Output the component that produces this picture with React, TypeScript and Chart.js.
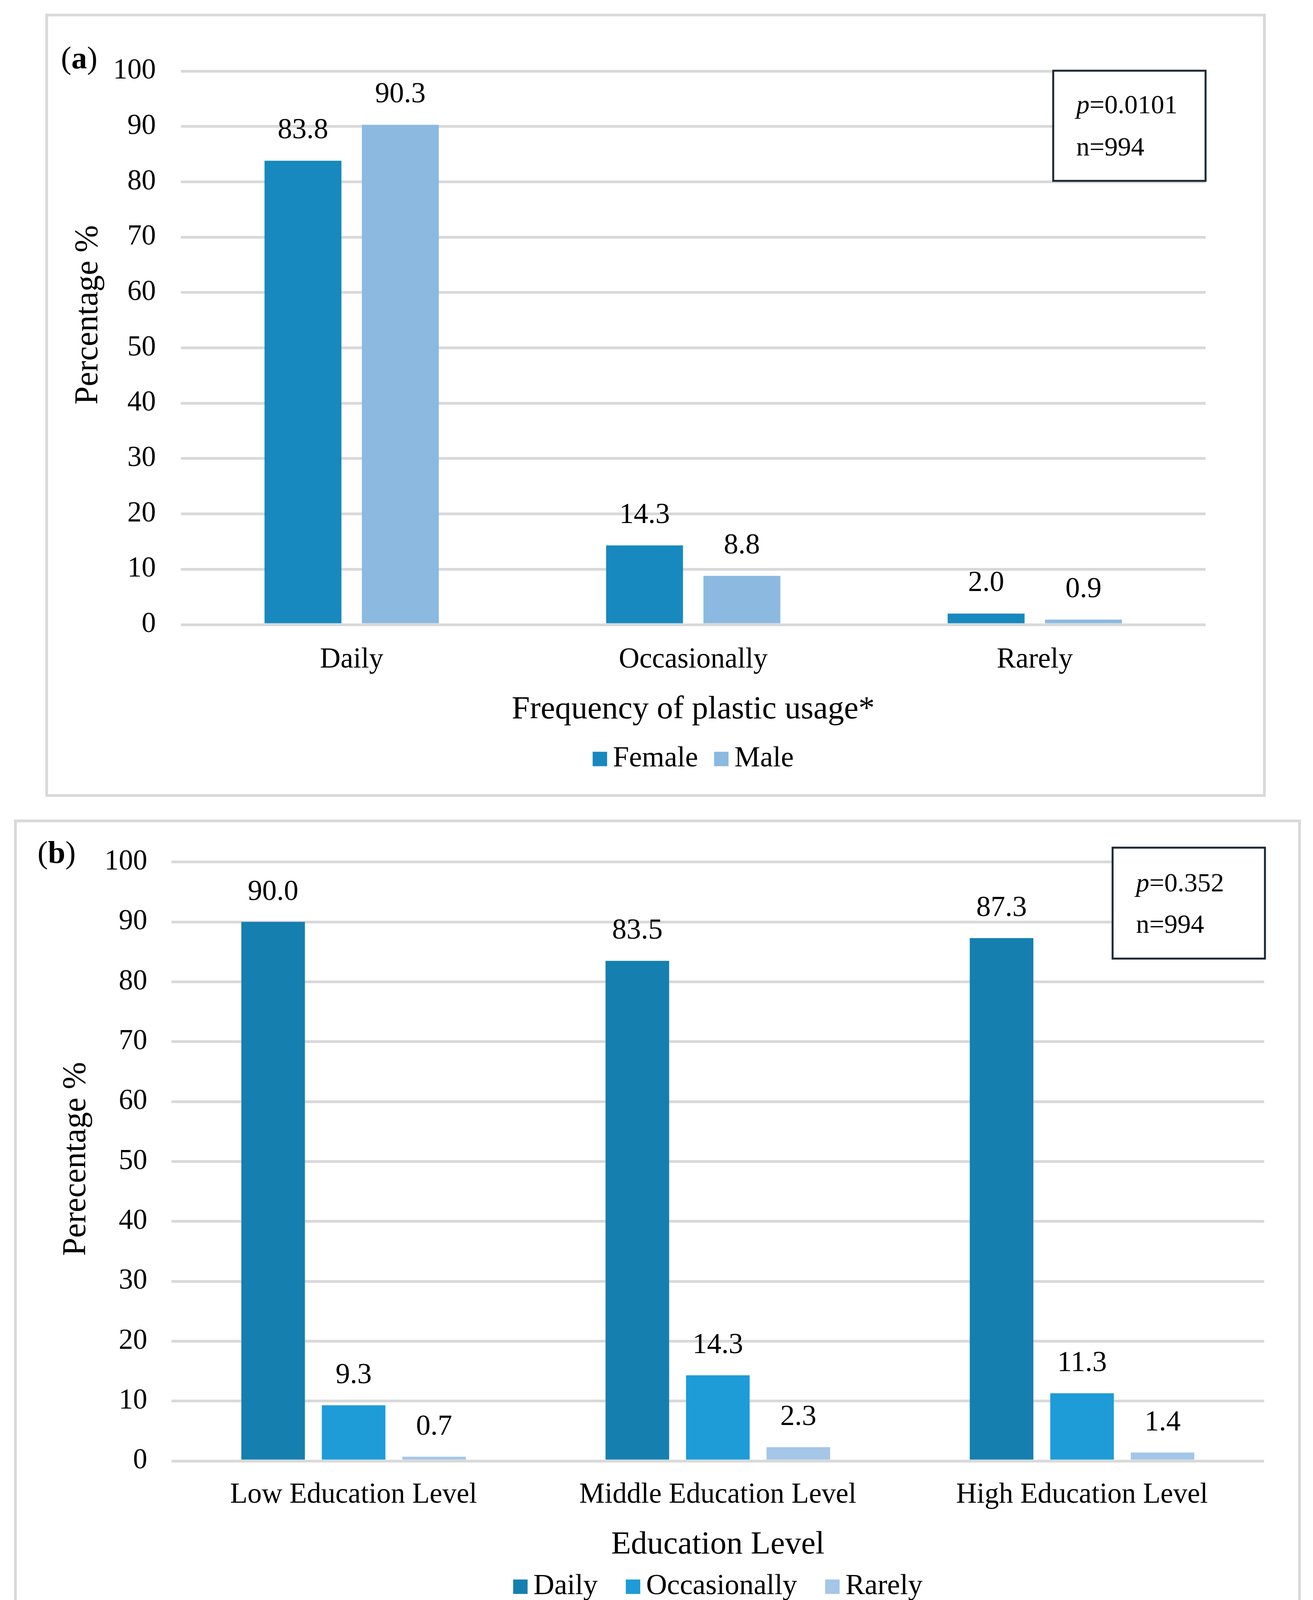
import React, { useEffect, useRef } from "react";
import { Chart, registerables } from "chart.js";

Chart.register(...registerables);

// ---------- Data ----------
const frequencyCategories = ["Daily", "Occasionally", "Rarely"];
const femaleValues = [83.8, 14.3, 2.0];
const maleValues = [90.3, 8.8, 0.9];

const educationCategories = ["Low Education Level", "Middle Education Level", "High Education Level"];
const dailyValues = [90.0, 83.5, 87.3];
const occasionallyValues = [9.3, 14.3, 11.3];
const rarelyValues = [0.7, 2.3, 1.4];

const yMin = 0;
const yMax = 100;
const yStep = 10;

const statsA = { p: "0.0101", n: "994" };
const statsB = { p: "0.352", n: "994" };

// ---------- Styling ----------
const FONT = '"Liberation Serif", "Times New Roman", serif';
const GRID = "#D9D9D9";

type PanelCfg = {
  left: number; top: number; width: number; height: number;
  border: { left: number; top: number; width: number; height: number };
  categories: string[];
  datasets: { label: string; data: number[]; color: string }[];
  cp: number; bp: number;
  padding: { left: number; right: number; top: number; bottom: number };
  yWidth: number; yTitle: string; yTitlePos: { x: number; y: number }; yTickPad: number;
  xTitle: string; xTickPad: number; xHeight: number;
  panelLabel: { text: string; x: number; y: number };
  pBox: { x: number; y: number; w: number; h: number; tx: number; y1: number; y2: number; p: string; n: string };
  legend: { y: number; gapText: number; gapItem: number };
  labelOffset: number;
};

const panelA: PanelCfg = {
  left: 118, top: 38, width: 3118, height: 1998,
  border: { left: 116, top: 35, width: 3124, height: 2005 },
  categories: frequencyCategories,
  datasets: [
    { label: "Female", data: femaleValues, color: "#1789BE" },
    { label: "Male", data: maleValues, color: "#8BB9E0" },
  ],
  cp: 0.57, bp: 0.79,
  padding: { left: 0, right: 150, top: 144, bottom: 169 },
  yWidth: 345, yTitle: "Percentage %", yTitlePos: { x: 109, y: 768 }, yTickPad: 64,
  xTitle: "Frequency of plastic usage*", xTickPad: 47, xHeight: 268,
  panelLabel: { text: "a", x: 38, y: 116 },
  pBox: { x: 2578, y: 143, w: 390, h: 282, tx: 2637, y1: 234, y2: 342, p: statsA.p, n: statsA.n },
  legend: { y: 1905, gapText: 15, gapItem: 41 },
  labelOffset: 77,
};

const panelB: PanelCfg = {
  left: 39, top: 2101, width: 3287, height: 2064,
  border: { left: 36, top: 2098, width: 3294, height: 2070 },
  categories: educationCategories,
  datasets: [
    { label: "Daily", data: dailyValues, color: "#157FB0" },
    { label: "Occasionally", data: occasionallyValues, color: "#1D9CD7" },
    { label: "Rarely", data: rarelyValues, color: "#A4C6E7" },
  ],
  cp: 0.663, bp: 0.79,
  padding: { left: 0, right: 90, top: 88, bottom: 160 },
  yWidth: 400, yTitle: "Perecentage %", yTitlePos: { x: 157, y: 866 }, yTickPad: 62,
  xTitle: "Education Level", xTickPad: 44, xHeight: 265,
  panelLabel: { text: "b", x: 57, y: 87 },
  pBox: { x: 2809, y: 69, w: 390, h: 284, tx: 2869, y1: 163, y2: 269, p: statsB.p, n: statsB.n },
  legend: { y: 1961, gapText: 15, gapItem: 72 },
  labelOffset: 76,
};

function makePlugin(cfg: PanelCfg) {
  return {
    id: "panelExtras" + cfg.panelLabel.text,
    afterDatasetsDraw(chart: any) {
      const ctx = chart.ctx;
      ctx.save();
      ctx.font = `74px ${FONT}`;
      ctx.fillStyle = "#000";
      ctx.textAlign = "center";
      ctx.textBaseline = "middle";
      chart.data.datasets.forEach((ds: any, di: number) => {
        const meta = chart.getDatasetMeta(di);
        meta.data.forEach((bar: any, i: number) => {
          const v = ds.data[i] as number;
          ctx.fillText(v.toFixed(1), bar.x, bar.y - cfg.labelOffset);
        });
      });
      ctx.restore();
    },
    afterDraw(chart: any) {
      const ctx = chart.ctx;
      ctx.save();
      // y-axis title (rotated)
      ctx.save();
      ctx.translate(cfg.yTitlePos.x, cfg.yTitlePos.y);
      ctx.rotate(-Math.PI / 2);
      ctx.font = `84px ${FONT}`;
      ctx.fillStyle = "#000";
      ctx.textAlign = "center";
      ctx.textBaseline = "middle";
      ctx.fillText(cfg.yTitle, 0, 0);
      ctx.restore();

      // panel label "(a)"
      ctx.textBaseline = "middle";
      ctx.textAlign = "left";
      ctx.fillStyle = "#000";
      let x = cfg.panelLabel.x;
      const y = cfg.panelLabel.y;
      ctx.font = `80px ${FONT}`;
      ctx.fillText("(", x, y);
      x += ctx.measureText("(").width;
      ctx.font = `bold 80px ${FONT}`;
      ctx.fillText(cfg.panelLabel.text, x, y);
      x += ctx.measureText(cfg.panelLabel.text).width;
      ctx.font = `80px ${FONT}`;
      ctx.fillText(")", x, y);

      // p-value box
      const b = cfg.pBox;
      ctx.fillStyle = "#fff";
      ctx.fillRect(b.x, b.y, b.w, b.h);
      ctx.strokeStyle = "#1C2833";
      ctx.lineWidth = 5;
      ctx.strokeRect(b.x, b.y, b.w, b.h);
      ctx.fillStyle = "#000";
      ctx.font = `italic 68px ${FONT}`;
      ctx.fillText("p", b.tx, b.y1);
      const pw = ctx.measureText("p").width;
      ctx.font = `68px ${FONT}`;
      ctx.fillText("=" + b.p, b.tx + pw, b.y1);
      ctx.fillText("n=" + b.n, b.tx, b.y2);

      // legend
      const area = chart.chartArea;
      const cx = (area.left + area.right) / 2;
      ctx.font = `74px ${FONT}`;
      const box = 37;
      const items = chart.data.datasets.map((ds: any) => ({
        label: ds.label as string,
        color: ds.backgroundColor as string,
        w: box + cfg.legend.gapText + ctx.measureText(ds.label).width,
      }));
      const total = items.reduce((s: number, it: any) => s + it.w, 0) + cfg.legend.gapItem * (items.length - 1);
      let lx = cx - total / 2;
      const ly = cfg.legend.y;
      items.forEach((it: any) => {
        ctx.fillStyle = it.color;
        ctx.fillRect(lx, ly - box / 2, box, box);
        ctx.fillStyle = "#000";
        ctx.fillText(it.label, lx + box + cfg.legend.gapText, ly);
        lx += it.w + cfg.legend.gapItem;
      });
      ctx.restore();
    },
  };
}

function Panel({ cfg }: { cfg: PanelCfg }) {
  const ref = useRef<HTMLCanvasElement | null>(null);
  useEffect(() => {
    if (!ref.current) return;
    const chart = new Chart(ref.current, {
      type: "bar",
      data: {
        labels: cfg.categories,
        datasets: cfg.datasets.map((d) => ({
          label: d.label,
          data: d.data,
          backgroundColor: d.color,
          borderWidth: 0,
          categoryPercentage: cfg.cp,
          barPercentage: cfg.bp,
        })),
      },
      options: {
        animation: false,
        responsive: false,
        devicePixelRatio: 1,
        layout: { padding: cfg.padding },
        plugins: {
          legend: { display: false },
          tooltip: { enabled: false },
        },
        scales: {
          x: {
            grid: { display: false, drawTicks: false },
            border: { display: false },
            ticks: { font: { family: FONT, size: 73 }, color: "#000", padding: cfg.xTickPad, maxRotation: 0, autoSkip: false },
            title: {
              display: true,
              text: cfg.xTitle,
              font: { family: FONT, size: 83 },
              color: "#000",
              padding: { top: 0, bottom: 0 },
            },
            afterFit: (s: any) => { s.height = cfg.xHeight; },
          },
          y: {
            min: yMin,
            max: yMax,
            grid: { color: GRID, lineWidth: 7, drawTicks: false },
            border: { display: false },
            ticks: { stepSize: yStep, font: { family: FONT, size: 73 }, color: "#000", padding: cfg.yTickPad },
            title: { display: false },
            afterFit: (s: any) => { s.width = cfg.yWidth; },
          },
        },
      } as any,
      plugins: [makePlugin(cfg)],
    });
    return () => chart.destroy();
  }, [cfg]);

  return (
    <>
      <canvas
        ref={ref}
        width={cfg.width}
        height={cfg.height}
        style={{ position: "absolute", left: cfg.left, top: cfg.top, width: cfg.width, height: cfg.height }}
      />
      <div
        style={{
          position: "absolute",
          left: cfg.border.left,
          top: cfg.border.top,
          width: cfg.border.width,
          height: cfg.border.height,
          border: `7px solid ${GRID}`,
          boxSizing: "border-box",
          pointerEvents: "none",
        }}
      />
    </>
  );
}

export default function App() {
  return (
    <div style={{ position: "absolute", left: 0, top: 0, width: 3361, height: 4211, background: "#fff", overflow: "hidden" }}>
      <Panel cfg={panelA} />
      <Panel cfg={panelB} />
    </div>
  );
}
